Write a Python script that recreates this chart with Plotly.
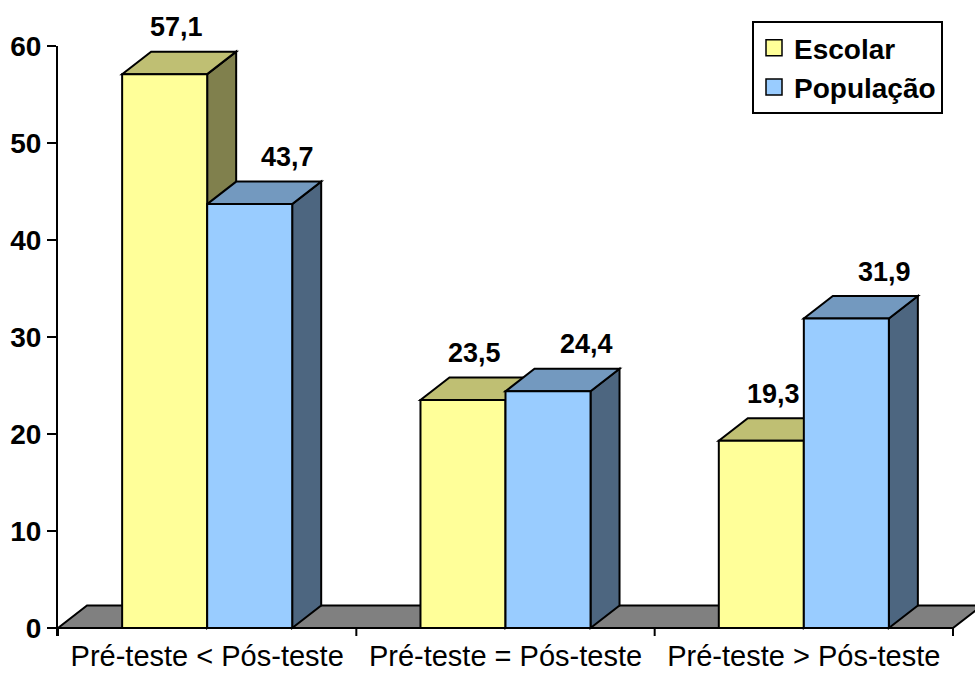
import plotly.graph_objects as go

# ---------------- data ----------------
categories = ["Pré-teste < Pós-teste", "Pré-teste = Pós-teste", "Pré-teste > Pós-teste"]
escolar = [57.1, 23.5, 19.3]
populacao = [43.7, 24.4, 31.9]
series_names = ["Escolar", "População"]
y_tick_values = [0, 10, 20, 30, 40, 50, 60]

# ---------------- styling / geometry ----------------
W, H = 975, 673
M_L, M_R, M_T, M_B = 58, 0, 46, 37
FONT = "Liberation Sans, Arial, sans-serif"

front_cols = ["#FFFF99", "#99CCFF"]
top_cols = ["#BFBF73", "#7399BF"]
side_cols = ["#80804D", "#4D6680"]
floor_col = "#808080"

y_max = 60
plot_h = H - M_T - M_B
zero_px_from_top = 628 - M_T          # where value 0 sits inside the plot area
ppu_y = zero_px_from_top / y_max      # pixels per y unit
y_min = -(plot_h - zero_px_from_top) / ppu_y

plot_w = W - M_L - M_R
ppu_x = 895 / 3                       # pixels per category
x_min = -0.5
x_max = x_min + plot_w / ppu_x

bar_w = 0.285
dx = 29 / ppu_x                        # 3-D depth offset (x units)
dy = 22.5 / ppu_y                      # 3-D depth offset (y units)

xs = list(range(len(categories)))
series = [escolar, populacao]
offsets = [-bar_w, 0.0]

fig = go.Figure()

# front faces through bar traces
for s, vals in enumerate(series):
    fig.add_trace(go.Bar(
        x=xs, y=vals, width=bar_w, offset=offsets[s],
        marker=dict(color=front_cols[s], line=dict(color="black", width=2)),
        showlegend=False, hoverinfo="skip", name=series_names[s],
    ))

# legend entries
for s in range(2):
    fig.add_trace(go.Scatter(
        x=[None], y=[None], mode="markers", name=series_names[s],
        marker=dict(symbol="square", size=16, color=front_cols[s],
                    line=dict(color="black", width=1.5)),
    ))

shapes = []
def poly(pts, fill):
    d = "M " + " L ".join(f"{x},{y}" for x, y in pts) + " Z"
    return dict(type="path", path=d, xref="x", yref="y", fillcolor=fill,
                line=dict(color="black", width=2), layer="below")

# floor
shapes.append(poly([(x_min, 0), (xs[-1] + 0.5, 0), (xs[-1] + 0.5 + dx, dy), (x_min + dx, dy)], floor_col))

for i in xs:
    for s, vals in enumerate(series):
        v = vals[i]
        x0 = i + offsets[s]
        x1 = x0 + bar_w
        # side face
        shapes.append(poly([(x1, 0), (x1, v), (x1 + dx, v + dy), (x1 + dx, dy)], side_cols[s]))
        # top face
        shapes.append(poly([(x0, v), (x1, v), (x1 + dx, v + dy), (x0 + dx, v + dy)], top_cols[s]))

# category boundary ticks
for b in [c - 0.5 for c in xs] + [xs[-1] + 0.5]:
    shapes.append(dict(type="line", xref="x", yref="y", x0=b, x1=b, y0=y_min, y1=0,
                       line=dict(color="black", width=2), layer="above"))

annotations = []
label_xshift = [12, 38]
for s, vals in enumerate(series):
    for i, v in enumerate(vals):
        annotations.append(dict(
            x=i + offsets[s] + bar_w / 2, y=v, xref="x", yref="y",
            text=f"{v:.1f}".replace(".", ","), showarrow=False,
            xshift=label_xshift[s], yshift=47, yanchor="middle",
            font=dict(family=FONT, size=27, color="black", weight="bold"),
        ))

fig.update_layout(
    width=W, height=H,
    margin=dict(l=M_L, r=M_R, t=M_T, b=M_B, pad=0),
    paper_bgcolor="white", plot_bgcolor="white",
    shapes=shapes, annotations=annotations,
    showlegend=True,
    legend=dict(
        x=(752 - M_L) / plot_w, y=(H - M_B - 21) / plot_h,
        xanchor="left", yanchor="top",
        bordercolor="black", borderwidth=2, bgcolor="white",
        font=dict(family=FONT, size=28, color="black", weight="bold"),
        itemwidth=30, tracegroupgap=0,
    ),
    xaxis=dict(
        range=[x_min, x_max], tickmode="array", tickvals=xs, ticktext=categories,
        ticks="", showline=False, showgrid=False, zeroline=False,
        tickfont=dict(family=FONT, size=29, color="black"),
    ),
    yaxis=dict(
        range=[y_min, y_max], tickmode="array", tickvals=y_tick_values,
        ticks="outside", ticklen=9, tickwidth=2, tickcolor="black",
        showline=True, linecolor="black", linewidth=2,
        showgrid=False, zeroline=False,
        tickfont=dict(family=FONT, size=28, color="black", weight="bold"),
    ),
)

fig.write_html("out.html")
